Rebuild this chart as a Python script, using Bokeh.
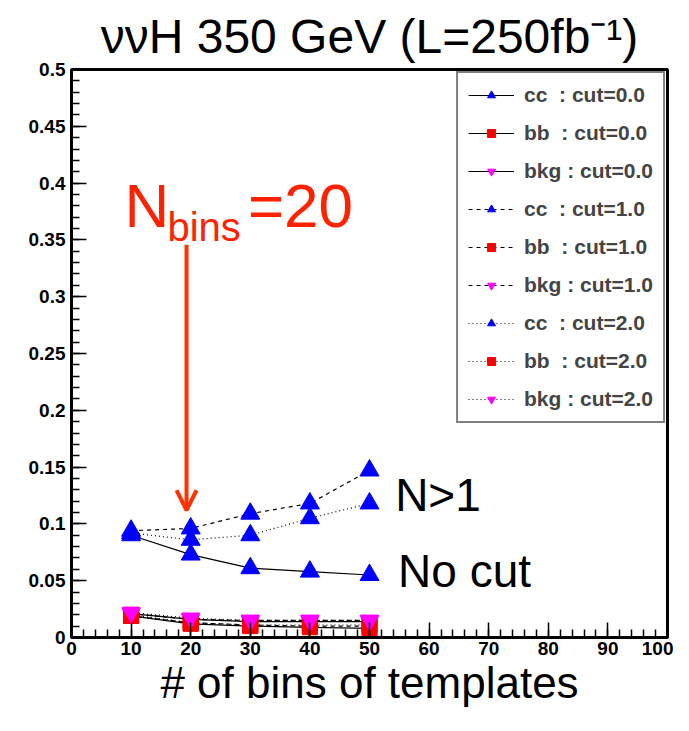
from bokeh.plotting import figure
from bokeh.models import (Range1d, FixedTicker, CustomJSTickFormatter, Legend, LegendItem,
                          Label, Arrow, OpenHead)
from bokeh.embed import file_html
from bokeh.resources import INLINE

# ---------------- data ----------------
nbins = [10, 20, 30, 40, 50]
cc_cut0 = [0.090, 0.073, 0.061, 0.058, 0.055]
bb_cut0 = [0.019, 0.012, 0.010, 0.009, 0.008]
bkg_cut0 = [0.021, 0.016, 0.014, 0.014, 0.014]
cc_cut1 = [0.094, 0.096, 0.109, 0.118, 0.147]
bb_cut1 = [0.019, 0.013, 0.011, 0.010, 0.010]
bkg_cut1 = [0.021, 0.016, 0.015, 0.015, 0.015]
cc_cut2 = [0.092, 0.086, 0.090, 0.105, 0.118]
bb_cut2 = [0.020, 0.013, 0.011, 0.011, 0.011]
bkg_cut2 = [0.022, 0.017, 0.015, 0.015, 0.015]

legend_labels = ["cc  : cut=0.0", "bb  : cut=0.0", "bkg : cut=0.0",
                 "cc  : cut=1.0", "bb  : cut=1.0", "bkg : cut=1.0",
                 "cc  : cut=2.0", "bb  : cut=2.0", "bkg : cut=2.0"]
series_values = [cc_cut0, bb_cut0, bkg_cut0, cc_cut1, bb_cut1, bkg_cut1,
                 cc_cut2, bb_cut2, bkg_cut2]

x_ticks = [0, 10, 20, 30, 40, 50, 60, 70, 80, 90, 100]
x_minor = list(range(0, 101, 2))
y_ticks = [0, 0.05, 0.1, 0.15, 0.2, 0.25, 0.3, 0.35, 0.4, 0.45, 0.5]
y_minor = [i / 100 for i in range(0, 51)]

title_text = "\u03bd\u03bdH 350 GeV (L=250fb\u207b\u00b9)"
x_title = "# of bins of templates"

# ---------------- styles ----------------
markers = ["triangle", "square", "inverted_triangle"] * 3
colors = ["#0000ff", "#ff0000", "#ff00ff"] * 3
sizes = [19, 15, 18] * 3
dashes = ["solid"] * 3 + ["4 4"] * 3 + ["1 3"] * 3

FONT = "Liberation Sans"

p = figure(width=673, height=715, x_range=Range1d(0, 100), y_range=Range1d(0, 0.5),
           output_backend="svg", toolbar_location=None, title=title_text,
           min_border_left=71, min_border_right=6, min_border_top=69, min_border_bottom=78)
p.title.text_font = FONT
p.title.text_font_size = "48px"
p.title.text_font_style = "normal"
p.title.text_color = "black"
p.title.align = "center"
p.title.standoff = 14
p.grid.visible = False
p.outline_line_color = "black"
p.outline_line_width = 3
p.outline_line_alpha = 1.0

p.xaxis.ticker = FixedTicker(ticks=x_ticks, minor_ticks=x_minor)
p.yaxis.ticker = FixedTicker(ticks=y_ticks, minor_ticks=y_minor)
p.xaxis.formatter = CustomJSTickFormatter(code="return tick.toFixed(0);")
p.yaxis.formatter = CustomJSTickFormatter(code="return Number(tick.toFixed(2)).toString();")
for ax in (p.xaxis, p.yaxis):
    ax.axis_line_width = 3
    ax.axis_line_color = "black"
    ax.major_tick_in = 15
    ax.major_tick_out = 0
    ax.minor_tick_in = 8
    ax.minor_tick_out = 0
    ax.major_tick_line_width = 1.5
    ax.minor_tick_line_width = 1.5
    ax.major_tick_line_color = "black"
    ax.minor_tick_line_color = "black"
    ax.major_label_text_font = FONT
    ax.major_label_text_font_style = "bold"
    ax.major_label_text_font_size = "19px"
    ax.major_label_text_color = "black"
p.xaxis.major_label_standoff = 4
p.yaxis.major_label_standoff = 6
p.xaxis.axis_label = x_title
p.xaxis.axis_label_text_font = FONT
p.xaxis.axis_label_text_font_size = "44px"
p.xaxis.axis_label_text_font_style = "normal"
p.xaxis.axis_label_text_color = "black"
p.xaxis.axis_label_standoff = 0

items = []
for lab, vals, mk, col, sz, dash in zip(legend_labels, series_values, markers, colors, sizes, dashes):
    lr = p.line(nbins, vals, line_color="black", line_width=1.2, line_dash=dash)
    sr = p.scatter(nbins, vals, marker=mk, size=sz, fill_color=col, line_color=col)
    items.append(LegendItem(label=lab, renderers=[lr, sr]))

legend = Legend(items=items, location="top_right", margin=2, padding=10, spacing=14,
                glyph_width=46, glyph_height=20, label_height=20, label_standoff=10,
                label_text_font=FONT, label_text_font_style="bold", label_text_font_size="21px",
                border_line_color="black", border_line_width=2, background_fill_alpha=1.0)
p.add_layout(legend, "center")

# ---------------- annotations ----------------
def lab(x, y, text, size, color="black", align="left", style="normal"):
    p.add_layout(Label(x=x, y=y, text=text, text_font=FONT, text_font_size=size,
                       text_color=color, text_align=align, text_baseline="alphabetic",
                       text_font_style=style))

red = "#ff2200"
lab(8.9, 0.3800, "N", "62px", color=red)
lab(16.1, 0.3610, "bins", "40px", color=red)
lab(29.6, 0.3800, "=20", "62px", color=red)
lab(54.3, 0.1255, "N>1", "46px")
lab(54.8, 0.0585, "No cut", "46px")

p.add_layout(Arrow(x_start=19.3, y_start=0.3457, x_end=19.3, y_end=0.112,
                   line_color="#ff3300", line_width=4,
                   end=OpenHead(size=20, line_color="#ff3300", line_width=4)))

open("out.html", "w").write(file_html(p, INLINE))
